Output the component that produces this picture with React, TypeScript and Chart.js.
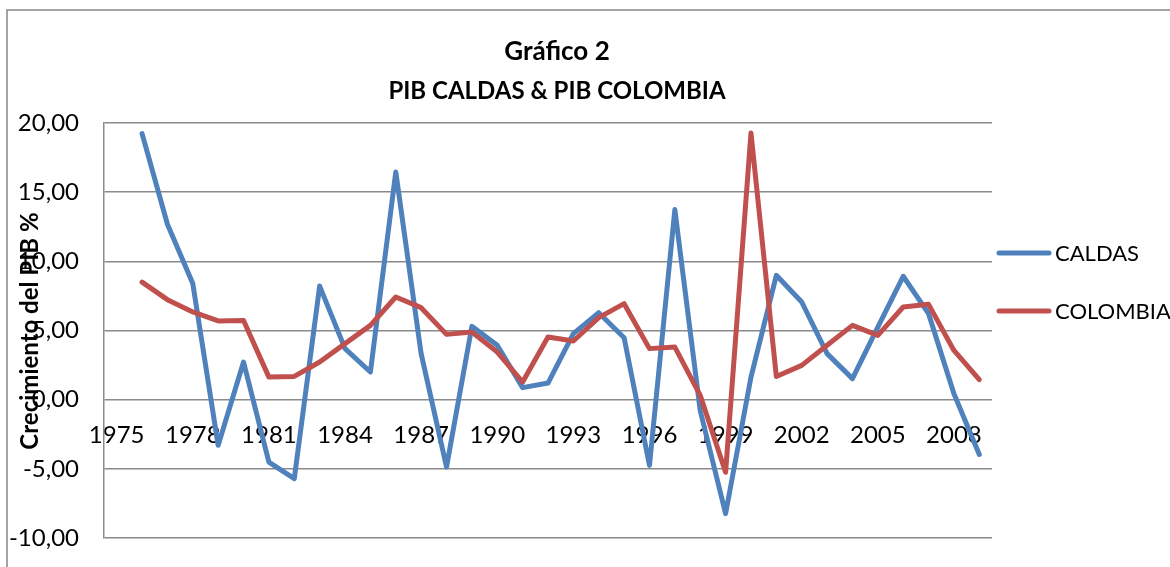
import React, { useEffect, useRef } from "react";
import { Chart, registerables } from "chart.js";

Chart.register(...registerables);

const years: string[] = [
  "1975", "1976", "1977", "1978", "1979", "1980", "1981", "1982", "1983", "1984",
  "1985", "1986", "1987", "1988", "1989", "1990", "1991", "1992", "1993", "1994",
  "1995", "1996", "1997", "1998", "1999", "2000", "2001", "2002", "2003", "2004",
  "2005", "2006", "2007", "2008", "2009",
];

const caldas: (number | null)[] = [
  null, 19.23, 12.68, 8.39, -3.3, 2.72, -4.51, -5.71, 8.21, 3.69,
  2.0, 16.46, 3.33, -4.87, 5.3, 3.93, 0.87, 1.2, 4.77, 6.29,
  4.48, -4.75, 13.74, -0.8, -8.24, 1.63, 8.99, 7.06, 3.33, 1.52,
  5.25, 8.92, 6.22, 0.43, -3.96,
];

const colombia: (number | null)[] = [
  null, 8.5, 7.23, 6.34, 5.69, 5.73, 1.63, 1.68, 2.72, 4.05,
  5.37, 7.42, 6.65, 4.72, 4.89, 3.44, 1.27, 4.53, 4.24, 5.93,
  6.94, 3.69, 3.8, 0.31, -5.25, 19.28, 1.68, 2.48, 3.93, 5.37,
  4.65, 6.7, 6.89, 3.56, 1.45,
];

const seriesNames = ["CALDAS", "COLOMBIA"];
const seriesColors = ["#4F81BD", "#C0504D"];
const titleLines = ["Gráfico 2", "PIB CALDAS & PIB COLOMBIA"];
const yTitle = "Crecimiento del PIB %";

const FONT = "Lato, 'Open Sans', sans-serif";

const decorPlugin = {
  id: "decor",
  beforeDraw(chart: any) {
    const ctx = chart.ctx;
    ctx.save();
    ctx.strokeStyle = "#868686";
    ctx.lineWidth = 1.5;
    ctx.strokeRect(7, 10, 1300, 700);
    ctx.restore();
  },
  afterDraw(chart: any) {
    const ctx = chart.ctx;
    const area = chart.chartArea;
    ctx.save();
    // Title
    ctx.fillStyle = "#000";
    ctx.textAlign = "center";
    ctx.textBaseline = "middle";
    const cx = (area.left + area.right) / 2 + 9;
    ctx.font = `bold 26px ${FONT}`;
    ctx.fillText(titleLines[0], cx, 52);
    ctx.font = `bold 24px ${FONT}`;
    ctx.fillText(titleLines[1], cx, 91);

    // Y title (overlapping tick labels like the original)
    ctx.save();
    ctx.translate(30, 331);
    ctx.rotate(-Math.PI / 2);
    ctx.font = `bold 24px ${FONT}`;
    ctx.fillText(yTitle, 0, 0);
    ctx.restore();

    // Legend
    const legendY = [253, 311];
    ctx.font = `22px ${FONT}`;
    ctx.textAlign = "left";
    for (let i = 0; i < seriesNames.length; i++) {
      ctx.strokeStyle = seriesColors[i];
      ctx.lineWidth = 5;
      ctx.lineCap = "round";
      ctx.beginPath();
      ctx.moveTo(area.right + 7, legendY[i]);
      ctx.lineTo(area.right + 57, legendY[i]);
      ctx.stroke();
      ctx.fillStyle = "#000";
      ctx.fillText(seriesNames[i], area.right + 63, legendY[i] + 1);
    }
    ctx.restore();
  },
};

export default function App() {
  const canvasRef = useRef<HTMLCanvasElement | null>(null);

  useEffect(() => {
    if (!canvasRef.current) return;
    const chart = new Chart(canvasRef.current, {
      type: "line",
      data: {
        labels: years,
        datasets: [
          {
            label: seriesNames[0],
            data: caldas,
            borderColor: seriesColors[0],
            backgroundColor: seriesColors[0],
            borderWidth: 5,
            pointRadius: 0,
            tension: 0,
            borderJoinStyle: "round",
            borderCapStyle: "round",
            order: 1,
          },
          {
            label: seriesNames[1],
            data: colombia,
            borderColor: seriesColors[1],
            backgroundColor: seriesColors[1],
            borderWidth: 5,
            pointRadius: 0,
            tension: 0,
            borderJoinStyle: "round",
            borderCapStyle: "round",
            order: 0,
          },
        ],
      },
      options: {
        responsive: false,
        animation: false,
        layout: { padding: { left: 0, right: 178, top: 123, bottom: 29 } },
        plugins: {
          legend: { display: false },
          title: { display: false },
          tooltip: { enabled: false },
        },
        scales: {
          x: {
            type: "category",
            position: { y: 0 },
            offset: true,
            afterFit: (s: any) => {
              s.height = 0;
              s.paddingLeft = 0;
              s.paddingRight = 0;
            },
            grid: { display: false, drawTicks: false },
            border: { display: false },
            ticks: {
              autoSkip: false,
              maxRotation: 0,
              minRotation: 0,
              padding: 21,
              color: "#000",
              font: { family: FONT, size: 24 },
              callback: (_v: any, i: number) => (i % 3 === 0 ? years[i] : ""),
            },
          },
          y: {
            min: -10,
            max: 20,
            afterFit: (s: any) => {
              s.width = 104;
              s.paddingTop = 0;
              s.paddingBottom = 0;
            },
            grid: { color: "#8a8a8a", lineWidth: 1.5, drawTicks: false },
            border: { display: true, color: "#8a8a8a", width: 1.5 },
            ticks: {
              stepSize: 5,
              padding: 25,
              color: "#000",
              font: { family: FONT, size: 24 },
              callback: (v: any) => Number(v).toFixed(2).replace(".", ","),
            },
          },
        },
      },
      plugins: [decorPlugin],
    });
    return () => chart.destroy();
  }, []);

  return (
    <div style={{ position: "fixed", left: 0, top: 0, width: 1170, height: 567, background: "#fff" }}>
      <canvas ref={canvasRef} width={1170} height={567} />
    </div>
  );
}
